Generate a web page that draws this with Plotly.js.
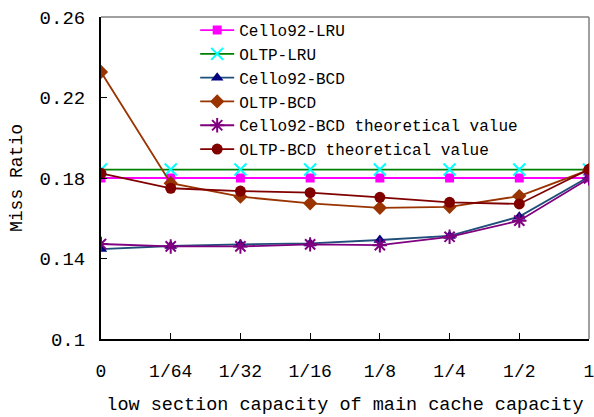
<!DOCTYPE html>
<html>
<head>
<meta charset="utf-8">
<script src="https://cdn.plot.ly/plotly-3.0.1.min.js"></script>
<style>html,body{margin:0;padding:0;background:#fff;}#chart{width:594px;height:417px;}</style>
</head>
<body>
<div id="chart"></div>
<script>
const categories = ["0", "1/64", "1/32", "1/16", "1/8", "1/4", "1/2", "1"];
const cello92LRU = [0.180, 0.180, 0.180, 0.180, 0.180, 0.180, 0.180, 0.180];
const oltpLRU = [0.1842, 0.1842, 0.1842, 0.1842, 0.1842, 0.1842, 0.1842, 0.1842];
const cello92BCD = [0.1447, 0.1462, 0.1470, 0.1475, 0.1492, 0.1512, 0.1608, 0.1806];
const oltpBCD = [0.2327, 0.1774, 0.1707, 0.1674, 0.1652, 0.1657, 0.1710, 0.1840];
const cello92BCDTheory = [0.1472, 0.1460, 0.1460, 0.1470, 0.1466, 0.1508, 0.1588, 0.1798];
const oltpBCDTheory = [0.1823, 0.1749, 0.1735, 0.1727, 0.1704, 0.1679, 0.1671, 0.1843];
const yTickVals = [0.10, 0.14, 0.18, 0.22, 0.26];
const yTickText = ["0.1", "0.14", "0.18", "0.22", "0.26"];

const FONT = "Liberation Mono, DejaVu Sans Mono, monospace";

function tr(name, y, lineColor, symbol, mColor, mSize, extra) {
  const marker = Object.assign({symbol: symbol, color: mColor, size: mSize, line: {width: 0}}, extra || {});
  return {x: categories, y: y, name: name, type: "scatter", mode: "lines+markers",
          line: {color: lineColor, width: 1.8}, marker: marker};
}

const data = [
  tr("Cello92-LRU", cello92LRU, "#FF00FF", "square", "#FF00FF", 9),
  tr("OLTP-LRU", oltpLRU, "#008000", "x-thin-open", "#00FFFF", 12, {line: {color: "#00FFFF", width: 2}}),
  tr("Cello92-BCD", cello92BCD, "#1F4E79", "triangle-up", "#000080", 11),
  tr("OLTP-BCD", oltpBCD, "#993300", "diamond", "#993300", 11),
  tr("Cello92-BCD theoretical value", cello92BCDTheory, "#800080", "asterisk-open", "#800080", 12, {line: {color: "#800080", width: 2}}),
  tr("OLTP-BCD theoretical value", oltpBCDTheory, "#800000", "circle", "#800000", 11)
];

const layout = {
  width: 594, height: 417,
  margin: {l: 101, r: 5, t: 17, b: 78},
  paper_bgcolor: "#fff", plot_bgcolor: "#fff",
  font: {family: FONT, color: "#000", size: 16},
  showlegend: true,
  legend: {x: 0.193, y: 1.012, xanchor: "left", yanchor: "top", bgcolor: "rgba(0,0,0,0)",
           font: {family: FONT, size: 16, color: "#000"}, tracegroupgap: 0, itemwidth: 34},
  xaxis: {
    type: "category", range: [0, 7], showgrid: false, zeroline: false,
    showline: true, linecolor: "#000", linewidth: 2, mirror: false,
    ticks: "inside", ticklen: 6, tickcolor: "#000", tickwidth: 1,
    ticklabelstandoff: 14,
    tickfont: {family: FONT, size: 18, color: "#000"},
    title: {text: "low section capacity of main cache capacity", font: {family: FONT, size: 18.5, color: "#000"}, standoff: 16}
  },
  yaxis: {
    range: [0.1, 0.26], showgrid: false, zeroline: false,
    showline: true, linecolor: "#000", linewidth: 2, mirror: false,
    tickvals: yTickVals, ticktext: yTickText,
    ticks: "inside", ticklen: 6, tickcolor: "#000", tickwidth: 1,
    ticklabelstandoff: 10,
    tickfont: {family: FONT, size: 19, color: "#000"},
    title: {text: "Miss Ratio", font: {family: FONT, size: 18, color: "#000"}, standoff: 12}
  },
  shapes: [
    {type: "line", xref: "paper", yref: "paper", x0: 0, x1: 1, y0: 1, y1: 1, line: {color: "#808080", width: 1.5}, layer: "below"},
    {type: "line", xref: "paper", yref: "paper", x0: 1, x1: 1, y0: 0, y1: 1, line: {color: "#808080", width: 1.5}, layer: "below"}
  ]
};

Plotly.newPlot("chart", data, layout, {displayModeBar: false, staticPlot: true});
</script>
</body>
</html>
